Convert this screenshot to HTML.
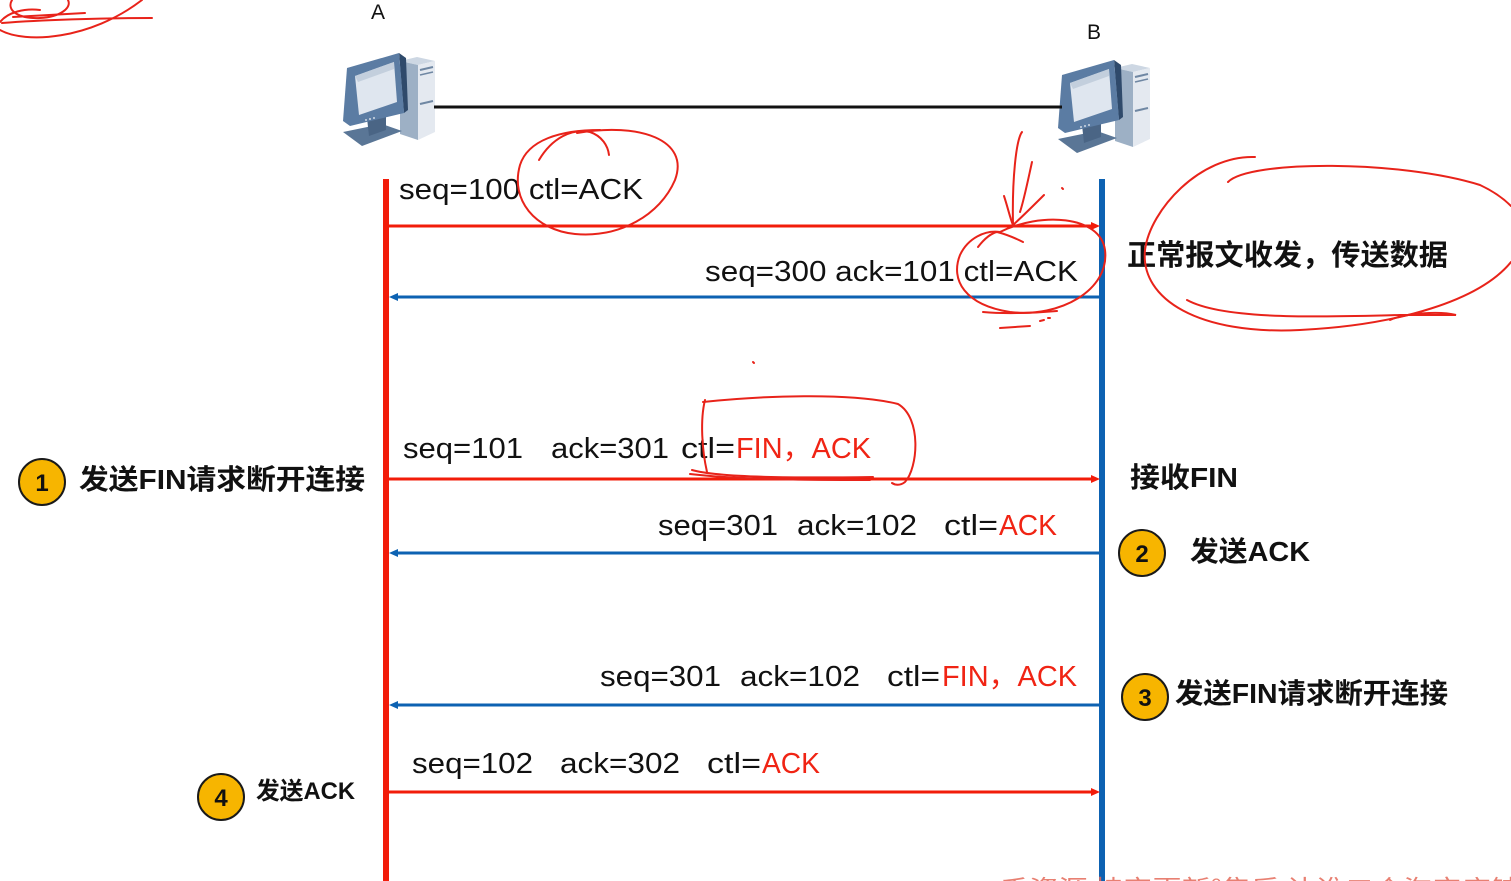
<!DOCTYPE html>
<html><head><meta charset="utf-8"><style>
html,body{margin:0;padding:0;background:#fff}
svg{display:block}
.t{font-family:"Liberation Sans","Noto Sans CJK SC",sans-serif;font-size:29px;fill:#111}
.r{fill:#f02414}
.b{font-family:"Liberation Sans","Noto Sans CJK SC",sans-serif;font-weight:bold;fill:#111}
.pen{fill:none;stroke:#e8231a;stroke-width:2;stroke-linecap:round}
</style></head><body>
<svg width="1511" height="881" viewBox="0 0 1511 881" xmlns="http://www.w3.org/2000/svg">
<rect width="1511" height="881" fill="#fff"/>

<!-- computer A -->
<g id="pcA">
  <polygon points="400,61 417,57 435,61 418,65" fill="#cdd7e3"/>
  <polygon points="418,65 435,61 435,132 418,140" fill="#e4e9f0"/>
  <polygon points="400,61 418,65 418,140 400,134" fill="#9db0c5"/>
  <line x1="420" y1="70" x2="433" y2="67" stroke="#6f87a3" stroke-width="2"/>
  <line x1="420" y1="75" x2="433" y2="72" stroke="#6f87a3" stroke-width="1.5"/>
  <line x1="420" y1="104" x2="433" y2="101" stroke="#6f87a3" stroke-width="2"/>
  <polygon points="343,132 382,124 402,131 362,146" fill="#5a7696"/>
  <polygon points="367,118 386,113 386,130 369,136" fill="#4a6585"/>
  <polygon points="399,53 406,58 408,110 404,113" fill="#2f4a6b"/>
  <polygon points="347,68 399,53 404,113 350,126 343,121" fill="#5b7ca3"/>
  <polygon points="355,76 394,62 397,102 359,115" fill="#dfe6ef"/>
  <polygon points="355,76 394,62 394,69 358,82" fill="#c3cfdd"/>
  <circle cx="366" cy="120" r="1" fill="#cfd8e4"/>
  <circle cx="370" cy="119" r="1" fill="#cfd8e4"/>
  <circle cx="374" cy="118" r="1" fill="#cfd8e4"/>
</g>
<!-- computer B -->
<use href="#pcA" transform="translate(715,7)"/>

<text x="371" y="19" style="font-family:'Liberation Sans',sans-serif;font-size:21px;fill:#111">A</text>
<text x="1087" y="39" style="font-family:'Liberation Sans',sans-serif;font-size:21px;fill:#111">B</text>

<!-- link -->
<line x1="434" y1="107" x2="1062" y2="107" stroke="#111" stroke-width="3"/>

<!-- lifelines -->
<rect x="383" y="179" width="6" height="702" fill="#f21c0a"/>
<rect x="1099" y="179" width="6" height="702" fill="#0d62b2"/>

<!-- messages -->
<line x1="389" y1="226" x2="1094" y2="226" stroke="#f21c0a" stroke-width="3"/>
<polygon points="1100,226 1091,222 1091,230" fill="#f21c0a"/>
<line x1="396" y1="297" x2="1099" y2="297" stroke="#0d62b2" stroke-width="3"/>
<polygon points="389,297 398,293 398,301" fill="#0d62b2"/>
<line x1="389" y1="479" x2="1094" y2="479" stroke="#f21c0a" stroke-width="3"/>
<polygon points="1100,479 1091,475 1091,483" fill="#f21c0a"/>
<line x1="396" y1="553" x2="1099" y2="553" stroke="#0d62b2" stroke-width="3"/>
<polygon points="389,553 398,549 398,557" fill="#0d62b2"/>
<line x1="396" y1="705" x2="1099" y2="705" stroke="#0d62b2" stroke-width="3"/>
<polygon points="389,705 398,701 398,709" fill="#0d62b2"/>
<line x1="389" y1="792" x2="1094" y2="792" stroke="#f21c0a" stroke-width="3"/>
<polygon points="1100,792 1091,788 1091,796" fill="#f21c0a"/>

<!-- labels -->
<text class="t" x="399" y="199" textLength="244" lengthAdjust="spacingAndGlyphs">seq=100 ctl=ACK</text>
<text class="t" x="705" y="281" textLength="373" lengthAdjust="spacingAndGlyphs">seq=300 ack=101 ctl=ACK</text>

<text class="t" x="403" y="458" textLength="120" lengthAdjust="spacingAndGlyphs">seq=101</text>
<text class="t" x="551" y="458" textLength="118" lengthAdjust="spacingAndGlyphs">ack=301</text>
<text class="t" x="681" y="458" textLength="54" lengthAdjust="spacingAndGlyphs">ctl=</text>
<text class="t r" x="736" y="458" textLength="135" lengthAdjust="spacingAndGlyphs">FIN，ACK</text>

<text class="t" x="658" y="535" textLength="120" lengthAdjust="spacingAndGlyphs">seq=301</text>
<text class="t" x="797" y="535" textLength="120" lengthAdjust="spacingAndGlyphs">ack=102</text>
<text class="t" x="944" y="535" textLength="54" lengthAdjust="spacingAndGlyphs">ctl=</text>
<text class="t r" x="999" y="535" textLength="58" lengthAdjust="spacingAndGlyphs">ACK</text>

<text class="t" x="600" y="686" textLength="121" lengthAdjust="spacingAndGlyphs">seq=301</text>
<text class="t" x="740" y="686" textLength="120" lengthAdjust="spacingAndGlyphs">ack=102</text>
<text class="t" x="887" y="686" textLength="53" lengthAdjust="spacingAndGlyphs">ctl=</text>
<text class="t r" x="942" y="686" textLength="135" lengthAdjust="spacingAndGlyphs">FIN，ACK</text>

<text class="t" x="412" y="773" textLength="121" lengthAdjust="spacingAndGlyphs">seq=102</text>
<text class="t" x="560" y="773" textLength="120" lengthAdjust="spacingAndGlyphs">ack=302</text>
<text class="t" x="707" y="773" textLength="54" lengthAdjust="spacingAndGlyphs">ctl=</text>
<text class="t r" x="762" y="773" textLength="58" lengthAdjust="spacingAndGlyphs">ACK</text>

<!-- side annotations -->
<text class="b" x="1127" y="265" style="font-size:29px" textLength="321" lengthAdjust="spacingAndGlyphs">正常报文收发，传送数据</text>
<text class="b" x="1130" y="487" style="font-size:28px" textLength="108" lengthAdjust="spacingAndGlyphs">接收FIN</text>

<circle cx="42" cy="482" r="23" fill="#f7b500" stroke="#1a1a1a" stroke-width="2"/>
<text class="b" x="42" y="491" text-anchor="middle" style="font-size:24px">1</text>
<text class="b" x="79" y="489" style="font-size:28px" textLength="286" lengthAdjust="spacingAndGlyphs">发送FIN请求断开连接</text>

<circle cx="1142" cy="553" r="23" fill="#f7b500" stroke="#1a1a1a" stroke-width="2"/>
<text class="b" x="1142" y="562" text-anchor="middle" style="font-size:24px">2</text>
<text class="b" x="1190" y="561" style="font-size:28px" textLength="120" lengthAdjust="spacingAndGlyphs">发送ACK</text>

<circle cx="1145" cy="697" r="23" fill="#f7b500" stroke="#1a1a1a" stroke-width="2"/>
<text class="b" x="1145" y="706" text-anchor="middle" style="font-size:24px">3</text>
<text class="b" x="1175" y="703" style="font-size:28px" textLength="273" lengthAdjust="spacingAndGlyphs">发送FIN请求断开连接</text>

<circle cx="221" cy="797" r="23" fill="#f7b500" stroke="#1a1a1a" stroke-width="2"/>
<text class="b" x="221" y="806" text-anchor="middle" style="font-size:24px">4</text>
<text class="b" x="256" y="799" style="font-size:24px" textLength="99" lengthAdjust="spacingAndGlyphs">发送ACK</text>

<!-- hand-drawn red annotations -->
<g class="pen">
  <path d="M12 0 C6 10 18 19 40 18 C60 17 72 8 68 0"/>
  <path d="M13 17 L85 13"/>
  <path d="M2 23 C40 20 100 18 152 18"/>
  <path d="M0 30 C25 44 90 40 142 0"/>
  <path d="M0 22 C8 12 25 8 40 10"/>
  <path d="M539 160 C552 138 572 128 590 132 C602 136 608 146 609 155"/>
  <path d="M577 133 C640 122 690 140 675 180 C660 215 620 238 575 234 C535 230 510 200 520 165 C528 140 560 130 600 130"/>
  <path d="M1022 132 C1016 140 1012 180 1013 225"/>
  <path d="M1032 162 C1028 180 1024 200 1020 212"/>
  <path d="M1004 196 C1008 208 1010 218 1013 225"/>
  <path d="M1013 225 C1024 215 1034 205 1044 195"/>
  <path d="M1062 188 L1063 189"/>
  <path d="M1000 232 C1040 212 1100 215 1105 250 C1110 290 1060 318 1010 312 C965 305 950 280 960 255 C968 238 985 230 1000 232"/>
  <path d="M978 247 C985 238 992 233 997 232 C1005 234 1015 238 1023 242"/>
  <path d="M983 312 C1005 314 1035 313 1057 311"/>
  <path d="M1000 328 L1030 326"/>
  <path d="M1040 321 L1044 320 M1048 318 L1050 318"/>
  <path d="M1255 157 C1200 155 1150 210 1145 250 C1140 300 1200 335 1300 330 C1400 325 1480 300 1511 262"/>
  <path d="M1228 182 C1250 160 1400 160 1480 185 C1495 192 1505 200 1511 206"/>
  <path d="M1187 300 C1220 318 1300 318 1400 315 L1456 315 C1440 311 1405 313 1390 320"/>
  <path d="M703 402 C760 396 850 392 898 404 C922 418 918 468 905 482 C900 486 895 485 892 483"/>
  <path d="M705 400 C700 420 702 450 707 472"/>
  <path d="M692 470 C720 478 800 478 873 477"/>
  <path d="M690 474 C740 480 820 480 870 480"/>
  <path d="M753 362 L754 363"/>
</g>

<!-- watermark (cut off at bottom) -->
<text x="1000" y="897" textLength="520" lengthAdjust="spacingAndGlyphs" style="font-family:'Noto Sans CJK SC',sans-serif;font-size:24px;fill:#e46a5a;opacity:0.85">千资源  持定更新°集后  让谁二个淘宝店铺</text>
</svg>
</body></html>
